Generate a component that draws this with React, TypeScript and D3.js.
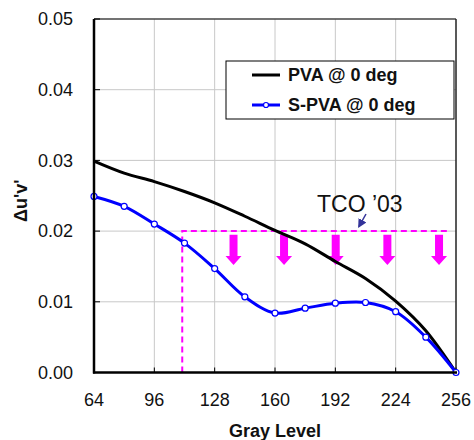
import React from "react";
import * as d3 from "d3";

const grayLevels = [64, 80, 96, 112, 128, 144, 160, 176, 192, 208, 224, 240, 256];
const pva = [0.0299, 0.0282, 0.027, 0.0256, 0.024, 0.0221, 0.0201, 0.0182, 0.0157, 0.0133, 0.0101, 0.0059, 0];
const spva = [0.0249, 0.0235, 0.021, 0.0183, 0.0147, 0.0107, 0.0084, 0.0091, 0.0098, 0.0099, 0.0086, 0.005, 0];
const xTicks = [64, 96, 128, 160, 192, 224, 256];
const yTicks = [0, 0.01, 0.02, 0.03, 0.04, 0.05];
const tcoStartX = 110.8;
const tcoLevel = 0.02;
const arrowXs = [138, 164.8, 192.2, 219.6, 247];
const arrowTop = 0.0195;
const arrowTip = 0.0152;
const seriesNames = ["PVA @ 0 deg", "S-PVA @ 0 deg"];

const W = 474;
const H = 440;
const L = 94, R = 456, T = 19, B = 372.5;

export default function App() {
  const x = d3.scaleLinear().domain([64, 256]).range([L, R]);
  const y = d3.scaleLinear().domain([0, 0.05]).range([B, T]);
  const blackLine = d3
    .line<[number, number]>()
    .x((d) => x(d[0]))
    .y((d) => y(d[1]))
    .curve(d3.curveMonotoneX);
  const blueLine = d3
    .line<[number, number]>()
    .x((d) => x(d[0]))
    .y((d) => y(d[1]))
    .curve(d3.curveCatmullRom.alpha(0.5));
  const pvaPts: [number, number][] = grayLevels.map((g, i) => [g, pva[i]]);
  const spvaPts: [number, number][] = grayLevels.map((g, i) => [g, spva[i]]);
  const font = "Arial, 'Liberation Sans', sans-serif";
  const magenta = "#ff00ff";

  const arrowPath = (gx: number) => {
    const cx = x(gx);
    const top = y(arrowTop);
    const tip = y(arrowTip);
    const headH = 9;
    const sw = 4;
    const hw = 8;
    const hb = tip - headH;
    return `M${cx - sw},${top}L${cx + sw},${top}L${cx + sw},${hb}L${cx + hw},${hb}L${cx},${tip}L${cx - hw},${hb}L${cx - sw},${hb}Z`;
  };

  return (
    <svg width={W} height={H} style={{ display: "block", position: "absolute", left: 0, top: 0 }} fontFamily={font}>
      <rect x={0} y={0} width={W} height={H} fill="#fff" />
      {/* grid */}
      {xTicks.slice(1, -1).map((t) => (
        <line key={"gx" + t} x1={x(t)} x2={x(t)} y1={T} y2={B} stroke="#c8c8c8" strokeWidth={1} />
      ))}
      {yTicks.slice(1, -1).map((t) => (
        <line key={"gy" + t} x1={L} x2={R} y1={y(t)} y2={y(t)} stroke="#c8c8c8" strokeWidth={1} />
      ))}
      {/* frame */}
      <line x1={L} x2={R} y1={T} y2={T} stroke="#444" strokeWidth={1.5} />
      <line x1={R} x2={R} y1={T} y2={B} stroke="#222" strokeWidth={1.5} />
      {/* ticks */}
      {yTicks.map((t) => (
        <line key={"ty" + t} x1={L} x2={L + 6} y1={y(t)} y2={y(t)} stroke="#000" strokeWidth={1} />
      ))}
      {xTicks.map((t) => (
        <line key={"tx" + t} x1={x(t)} x2={x(t)} y1={B} y2={B - 5} stroke="#000" strokeWidth={1} />
      ))}
      {/* TCO limits */}
      <path
        d={`M${x(tcoStartX)},${B}L${x(tcoStartX)},${y(tcoLevel)}L${R - 6},${y(tcoLevel)}`}
        fill="none"
        stroke={magenta}
        strokeWidth={2}
        strokeDasharray="6,4"
      />
      {arrowXs.map((a) => (
        <path key={"ar" + a} d={arrowPath(a)} fill={magenta} />
      ))}
      {/* series */}
      <path d={blackLine(pvaPts) || ""} fill="none" stroke="#000" strokeWidth={3} />
      <path d={blueLine(spvaPts) || ""} fill="none" stroke="#0000ff" strokeWidth={3} />
      {spvaPts.map((p, i) => (
        <circle key={"m" + i} cx={x(p[0])} cy={y(p[1])} r={3} fill="#fff" stroke="#0000ff" strokeWidth={1.2} />
      ))}
      {/* axes */}
      <line x1={L} x2={L} y1={T} y2={B + 1} stroke="#000" strokeWidth={2.5} />
      <line x1={L - 1} x2={R + 1} y1={B} y2={B} stroke="#000" strokeWidth={2.5} />
      {/* tick labels */}
      {yTicks.map((t) => (
        <text key={"yl" + t} x={L - 21} y={y(t)} dy="0.35em" textAnchor="end" fontSize={18} fill="#111">
          {d3.format(".2f")(t)}
        </text>
      ))}
      {xTicks.map((t) => (
        <text key={"xl" + t} x={x(t)} y={405.5} textAnchor="middle" fontSize={18} fill="#111">
          {t}
        </text>
      ))}
      {/* axis titles */}
      <text x={(L + R) / 2} y={437} textAnchor="middle" fontSize={18} fontWeight="bold" fill="#111">
        Gray Level
      </text>
      <text transform={`translate(27,${(T + B) / 2 + 5}) rotate(-90)`} textAnchor="middle" fontSize={18} fontWeight="bold" fill="#111">
        Δu'v'
      </text>
      {/* TCO label */}
      <text x={317} y={212} fontSize={23} fill="#111">
        TCO ’03
      </text>
      <defs>
        <marker id="ah" viewBox="0 0 10 10" refX={8} refY={5} markerWidth={6} markerHeight={6} orient="auto">
          <path d="M0,0L10,5L0,10Z" fill="#333399" />
        </marker>
      </defs>
      <line x1={366} y1={214} x2={359} y2={226.5} stroke="#333399" strokeWidth={1.5} markerEnd="url(#ah)" />
      {/* legend */}
      <rect x={226} y={61} width={228} height={58} fill="#fff" stroke="#000" strokeWidth={1} />
      <line x1={252} x2={280} y1={75} y2={75} stroke="#000" strokeWidth={3} />
      <line x1={252} x2={280} y1={105} y2={105} stroke="#0000ff" strokeWidth={3} />
      <circle cx={266} cy={105} r={2.5} fill="#fff" stroke="#0000ff" strokeWidth={1.2} />
      <text x={288} y={75} dy="0.35em" fontSize={18} fontWeight="bold" fill="#111">
        {seriesNames[0]}
      </text>
      <text x={288} y={105} dy="0.35em" fontSize={18} fontWeight="bold" fill="#111">
        {seriesNames[1]}
      </text>
    </svg>
  );
}
